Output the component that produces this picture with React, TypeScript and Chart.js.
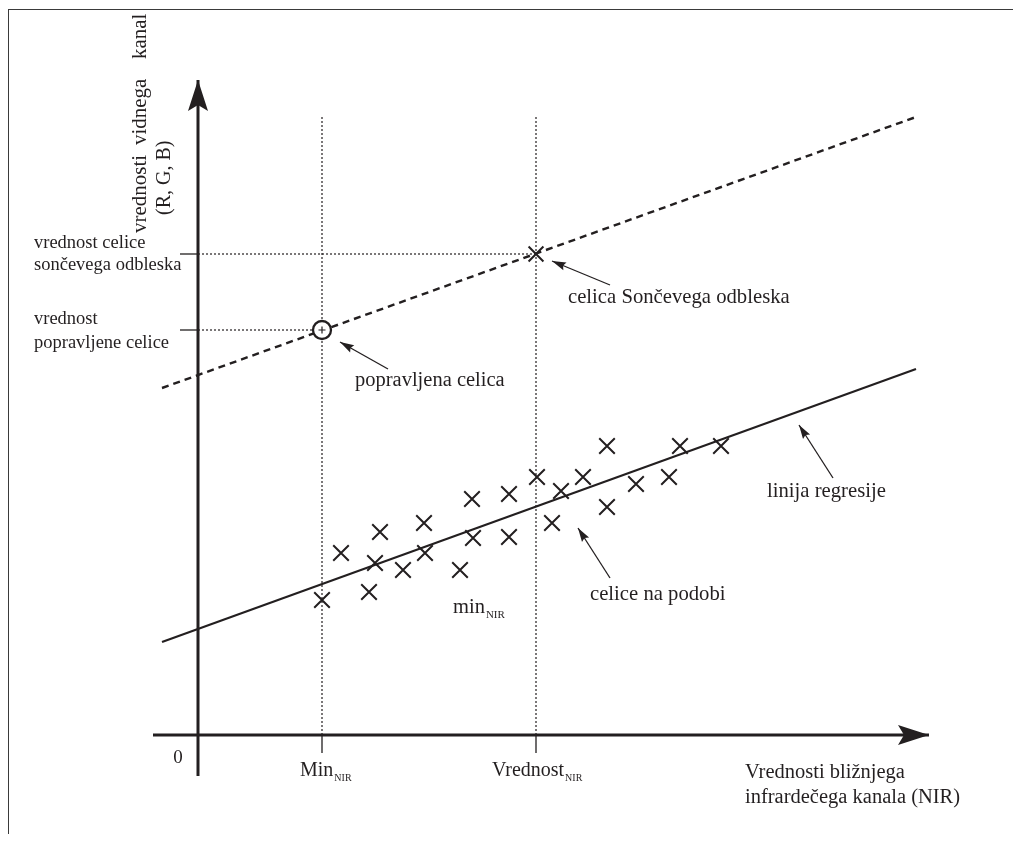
import React, { useEffect, useRef } from "react";
import { Chart, registerables } from "chart.js";

Chart.register(...registerables);

const FONT = '"Liberation Serif", "DejaVu Serif", serif';
const INK = "#231f20";

// ---- data (figure units: NIR on x, visible channel on y) ----
const cellNir = [12.4, 14.3, 17.1, 17.7, 18.2, 20.5, 22.6, 22.7, 26.2, 27.4, 27.5, 31.1, 31.1, 33.9, 35.4, 36.3, 38.5, 40.9, 40.9, 43.8, 47.1, 48.2, 52.3];
const cellVis = [13.5, 18.2, 14.3, 17.2, 20.3, 16.5, 21.2, 18.2, 16.5, 23.6, 19.7, 24.1, 19.8, 25.8, 21.2, 24.4, 25.8, 28.9, 22.8, 25.1, 25.8, 28.9, 28.9];

const regressionNir = [-3.6, 71.8];
const regressionVis = [9.3, 36.6];
const glintLineNir = [-3.6, 71.8];
const glintLineVis = [34.7, 61.8];

const minNir = 12.4;
const valueNir = 33.8;
const glintVis = 48.1;
const correctedVis = 40.5;
const guideTopVis = 61.8;

const xAxisNir = [-4.5, 73.1];
const yAxisVis = [-4.1, 65.5];

// annotation arrows: [tailNir, tailVis, tipNir, tipVis]
const pointerCorrected = [19.0, 36.6, 14.2, 39.3];
const pointerGlint = [41.2, 45.0, 35.4, 47.4];
const pointerRegression = [63.5, 25.7, 60.1, 31.0];
const pointerCells = [41.2, 15.7, 38.0, 20.7];

// texts
const yTitleLines = ["vrednosti vidnega  kanal", "(R, G, B)"];
const xTitleLines = ["Vrednosti bližnjega", "infrardečega kanala (NIR)"];
const glintValueLines = ["vrednost celice", "sončevega odbleska"];
const correctedValueLines = ["vrednost", "popravljene celice"];
const xTickTexts = ["0", "Min", "Vrednost"];
const subNIR = "NIR";
const noteCorrected = "popravljena celica";
const noteGlint = "celica Sončevega odbleska";
const noteRegression = "linija regresije";
const noteCells = "celice na podobi";
const noteMin = "min";

type Label = {
  text: string;
  nir: number;
  vis: number;
  size: number;
  align?: CanvasTextAlign;
  rotate?: number;
  sub?: string;
  wordSpacing?: string;
};

const labels: Label[] = [
  { text: glintValueLines[0], nir: -16.4, vis: 48.7, size: 18.5 },
  { text: glintValueLines[1], nir: -16.4, vis: 46.5, size: 18.5 },
  { text: correctedValueLines[0], nir: -16.4, vis: 41.1, size: 18.5 },
  { text: correctedValueLines[1], nir: -16.4, vis: 38.7, size: 18.5 },
  { text: noteCorrected, nir: 15.7, vis: 34.9, size: 20.5 },
  { text: noteGlint, nir: 37.0, vis: 43.2, size: 20.7 },
  { text: noteRegression, nir: 56.9, vis: 23.8, size: 20.7 },
  { text: noteCells, nir: 39.2, vis: 13.5, size: 20.7 },
  { text: noteMin, nir: 25.5, vis: 12.2, size: 20.5, sub: subNIR },
  { text: xTickTexts[0], nir: -2.0, vis: -2.8, size: 19, align: "center" },
  { text: xTickTexts[1], nir: 10.2, vis: -4.1, size: 20, sub: subNIR },
  { text: xTickTexts[2], nir: 29.4, vis: -4.1, size: 20, sub: subNIR },
  { text: xTitleLines[0], nir: 54.7, vis: -4.3, size: 20.5 },
  { text: xTitleLines[1], nir: 54.7, vis: -6.8, size: 20.5 },
  { text: yTitleLines[0], nir: -5.2, vis: 50.2, size: 21, rotate: -Math.PI / 2, wordSpacing: "4.5px" },
  { text: yTitleLines[1], nir: -2.8, vis: 52.0, size: 20, rotate: -Math.PI / 2 },
];

const pts = (xs: number[], ys: number[]) => xs.map((x, i) => ({ x, y: ys[i] }));
const seg = (a: number[]) => [
  { x: a[0], y: a[1] },
  { x: a[2], y: a[3] },
];

const arrowPlugin = {
  id: "arrowheads",
  afterDatasetsDraw(chart: any) {
    const ctx = chart.ctx;
    chart.data.datasets.forEach((ds: any, i: number) => {
      const head = ds.arrowHead;
      if (!head) return;
      const els = chart.getDatasetMeta(i).data;
      const a = els[els.length - 2];
      const b = els[els.length - 1];
      const ang = Math.atan2(b.y - a.y, b.x - a.x);
      ctx.save();
      ctx.translate(b.x, b.y);
      ctx.rotate(ang);
      ctx.beginPath();
      ctx.moveTo(0, 0);
      ctx.lineTo(-head.length, -head.width);
      ctx.lineTo(-head.length + head.notch, 0);
      ctx.lineTo(-head.length, head.width);
      ctx.closePath();
      ctx.fillStyle = INK;
      ctx.fill();
      ctx.restore();
    });
  },
};

const textPlugin = {
  id: "figureText",
  afterDraw(chart: any) {
    const { ctx } = chart;
    const sx = chart.scales.x;
    const sy = chart.scales.y;
    labels.forEach((l) => {
      const px = sx.getPixelForValue(l.nir);
      const py = sy.getPixelForValue(l.vis);
      ctx.save();
      ctx.translate(px, py);
      if (l.rotate) ctx.rotate(l.rotate);
      ctx.font = `${l.size}px ${FONT}`;
      (ctx as any).wordSpacing = l.wordSpacing || "0px";
      ctx.fillStyle = INK;
      ctx.textBaseline = "alphabetic";
      ctx.textAlign = l.align || "left";
      ctx.fillText(l.text, 0, 0);
      if (l.sub) {
        const w = ctx.measureText(l.text).width;
        ctx.font = `${Math.round(l.size * 0.52)}px ${FONT}`;
        ctx.textAlign = "left";
        ctx.fillText(l.sub, w + 1, 5);
      }
      ctx.restore();
    });
  },
};

const lineDs = (data: any[], width: number, dash: number[] = [], extra: any = {}) => ({
  data,
  showLine: true,
  borderColor: INK,
  backgroundColor: INK,
  borderWidth: width,
  borderDash: dash,
  borderCapStyle: "butt",
  pointRadius: 0,
  pointHoverRadius: 0,
  tension: 0,
  ...extra,
});

export default function App() {
  const ref = useRef<HTMLCanvasElement | null>(null);

  useEffect(() => {
    if (!ref.current) return;
    const thinHead = { length: 14, width: 4.2, notch: 2 };
    const axisHead = { length: 31, width: 10, notch: 6 };
    const chart = new Chart(ref.current, {
      type: "scatter",
      data: {
        datasets: [
          // topmost first
          {
            data: [{ x: minNir, y: correctedVis }],
            pointStyle: "cross",
            pointRadius: 3.5,
            borderWidth: 1.2,
            borderColor: INK,
            showLine: false,
          },
          {
            data: [{ x: minNir, y: correctedVis }],
            pointStyle: "circle",
            pointRadius: 9,
            borderWidth: 2.3,
            borderColor: INK,
            backgroundColor: "#ffffff",
            showLine: false,
          },
          {
            data: [{ x: valueNir, y: glintVis }],
            pointStyle: "crossRot",
            pointRadius: 10.5,
            borderWidth: 2,
            borderColor: INK,
            showLine: false,
          },
          {
            data: pts(cellNir, cellVis),
            pointStyle: "crossRot",
            pointRadius: 11,
            borderWidth: 2,
            borderColor: INK,
            showLine: false,
          },
          lineDs(pts(regressionNir, regressionVis), 2.2),
          lineDs(pts(glintLineNir, glintLineVis), 2.4, [7, 5]),
          lineDs(seg(pointerCorrected), 1.3, [], { arrowHead: thinHead }),
          lineDs(seg(pointerGlint), 1.3, [], { arrowHead: thinHead }),
          lineDs(seg(pointerRegression), 1.3, [], { arrowHead: thinHead }),
          lineDs(seg(pointerCells), 1.3, [], { arrowHead: thinHead }),
          lineDs(pts(xAxisNir, [0, 0]), 3, [], { arrowHead: axisHead }),
          lineDs(pts([0, 0], yAxisVis), 3, [], { arrowHead: axisHead }),
          // solid ticks
          lineDs(pts([minNir, minNir], [0, -1.8]), 1.3),
          lineDs(pts([valueNir, valueNir], [0, -1.8]), 1.3),
          lineDs(pts([-1.8, 0], [glintVis, glintVis]), 1.3),
          lineDs(pts([-1.8, 0], [correctedVis, correctedVis]), 1.3),
          // dotted guides
          lineDs(pts([minNir, minNir], [0, guideTopVis]), 1.2, [2, 2]),
          lineDs(pts([valueNir, valueNir], [0, guideTopVis]), 1.2, [2, 2]),
          lineDs(pts([0, valueNir], [glintVis, glintVis]), 1.2, [2, 2]),
          lineDs(pts([0, minNir], [correctedVis, correctedVis]), 1.2, [2, 2]),
        ] as any,
      },
      options: {
        animation: false,
        responsive: false,
        events: [],
        layout: { padding: 0, autoPadding: false },
        plugins: { legend: { display: false }, tooltip: { enabled: false } },
        scales: {
          x: { type: "linear", min: -19.8, max: 81.5, display: false },
          y: { type: "linear", min: -10.6, max: 73.5, display: false },
        },
      },
      plugins: [arrowPlugin, textPlugin],
    });
    return () => chart.destroy();
  }, []);

  return (
    <div style={{ position: "absolute", left: 0, top: 0, width: 1013, height: 841, background: "#fff" }}>
      <div
        style={{
          position: "absolute",
          left: 8,
          top: 9,
          width: 1005,
          height: 825,
          boxSizing: "border-box",
          borderTop: "1.5px solid #3a3a3a",
          borderLeft: "1.5px solid #3a3a3a",
        }}
      />
      <canvas ref={ref} width={1013} height={841} style={{ position: "absolute", left: 0, top: 0, display: "block" }} />
    </div>
  );
}
